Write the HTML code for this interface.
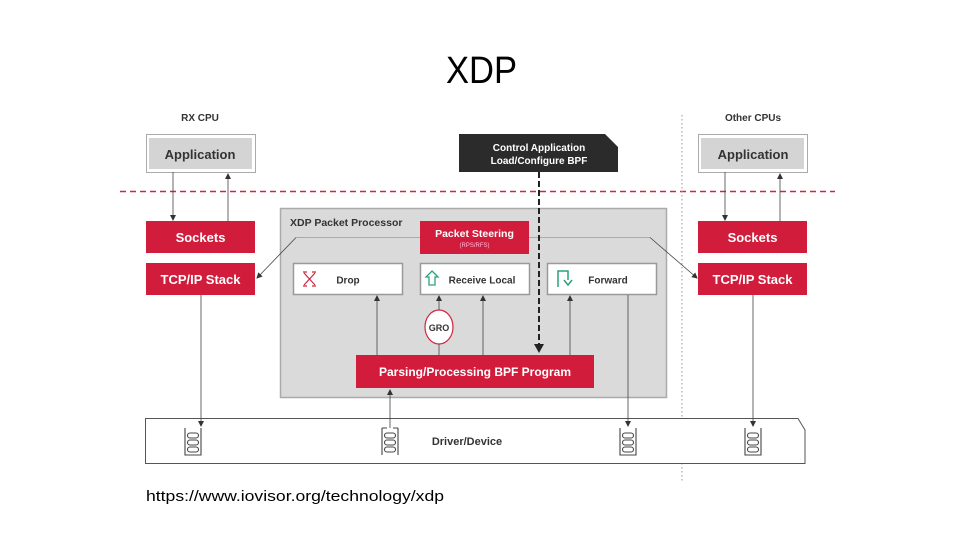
<!DOCTYPE html>
<html><head><meta charset="utf-8"><style>
html,body{margin:0;padding:0;background:#fff;}
svg{display:block;}
text{font-family:"Liberation Sans",sans-serif;}
</style></head><body>
<svg width="960" height="540" viewBox="0 0 960 540" xmlns="http://www.w3.org/2000/svg">
<defs>
<marker id="a" markerWidth="6" markerHeight="6" refX="5" refY="3" orient="auto" markerUnits="userSpaceOnUse"><path d="M0,0 L6,3 L0,6 z" fill="#333"/></marker>
<marker id="ab" markerWidth="10" markerHeight="10" refX="8" refY="5" orient="auto" markerUnits="userSpaceOnUse"><path d="M0,0 L9,5 L0,10 z" fill="#222"/></marker>
</defs>
<text x="446" y="83" font-size="38" textLength="71" lengthAdjust="spacingAndGlyphs" fill="#000">XDP</text>

<text x="200" y="121" font-size="10" font-weight="bold" text-anchor="middle" fill="#333">RX CPU</text>
<text x="753" y="121" font-size="10" font-weight="bold" text-anchor="middle" fill="#333">Other CPUs</text>

<rect x="146.5" y="134.5" width="109" height="38" fill="#fff" stroke="#aaa"/>
<rect x="149" y="138" width="103" height="31" fill="#d4d4d4"/>
<text x="200" y="159" font-size="13" font-weight="bold" text-anchor="middle" fill="#333">Application</text>
<rect x="698.5" y="134.5" width="109" height="38" fill="#fff" stroke="#aaa"/>
<rect x="701" y="138" width="103" height="31" fill="#d4d4d4"/>
<text x="753" y="159" font-size="13" font-weight="bold" text-anchor="middle" fill="#333">Application</text>

<path d="M459,134 L605,134 L618,147 L618,172 L459,172 z" fill="#2b2b2b"/>
<text x="539" y="151" font-size="10" font-weight="bold" text-anchor="middle" fill="#fff">Control Application</text>
<text x="539" y="164" font-size="10" font-weight="bold" text-anchor="middle" fill="#fff">Load/Configure BPF</text>

<line x1="120" y1="191.5" x2="835" y2="191.5" stroke="#d0243f" stroke-width="1.5" stroke-dasharray="6,4"/>
<line x1="682" y1="115" x2="682" y2="482" stroke="#999" stroke-width="1" stroke-dasharray="1.5,2.5"/>

<rect x="280.5" y="208.5" width="386" height="189" fill="#dadada" stroke="#aaa" stroke-width="1.5"/>
<text x="290" y="226" font-size="10.5" font-weight="bold" fill="#333">XDP Packet Processor</text>
<line x1="296" y1="237.5" x2="650" y2="237.5" stroke="#aaa"/>
<line x1="296" y1="237.5" x2="257" y2="278" stroke="#444" stroke-width="0.8" marker-end="url(#a)"/>
<line x1="650" y1="237.5" x2="697" y2="278" stroke="#444" stroke-width="0.8" marker-end="url(#a)"/>

<rect x="420" y="221" width="109" height="33" fill="#d21c3c"/>
<text x="474.5" y="237" font-size="10.5" font-weight="bold" text-anchor="middle" fill="#fff">Packet Steering</text>
<text x="474.5" y="247" font-size="6" text-anchor="middle" fill="#fbd">(RPS/RFS)</text>

<rect x="293.5" y="263.5" width="109" height="31" fill="#fff" stroke="#999" stroke-width="1.5"/>
<g stroke="#d0243f" stroke-width="1.2" fill="none"><path d="M304,273 L315,285 M315,273 L304,285 M303,272 L307,272 M312,272 L316,272 M303,286 L307,286 M312,286 L316,286"/></g>
<text x="348" y="283.5" font-size="10" font-weight="bold" text-anchor="middle" fill="#333">Drop</text>
<rect x="420.5" y="263.5" width="109" height="31" fill="#fff" stroke="#999" stroke-width="1.5"/>
<path d="M432,271 L438,277 L435,277 L435,285 L429,285 L429,277 L426,277 z" fill="none" stroke="#2aa37a" stroke-width="1.3"/>
<text x="482" y="283.5" font-size="10" font-weight="bold" text-anchor="middle" fill="#333">Receive Local</text>
<rect x="547.5" y="263.5" width="109" height="31" fill="#fff" stroke="#999" stroke-width="1.5"/>
<path d="M558,287 L558,271 L568,271 L568,280 M564,280 L568,285 L572,280" fill="none" stroke="#2aa37a" stroke-width="1.5"/>
<text x="608" y="283.5" font-size="10" font-weight="bold" text-anchor="middle" fill="#333">Forward</text>

<ellipse cx="439" cy="327" rx="14" ry="17" fill="#fff" stroke="#d0243f" stroke-width="1.2"/>
<text x="439" y="331" font-size="9" font-weight="bold" text-anchor="middle" fill="#333">GRO</text>

<rect x="356" y="355" width="238" height="33" fill="#d21c3c"/>
<text x="475" y="376" font-size="12" font-weight="bold" text-anchor="middle" fill="#fff">Parsing/Processing BPF Program</text>

<line x1="539" y1="172" x2="539" y2="352" stroke="#222" stroke-width="2" stroke-dasharray="6,3" marker-end="url(#ab)"/>

<path d="M145.5,418.5 L798,418.5 L805,430 L805,463.5 L145.5,463.5 z" fill="#fff" stroke="#555" stroke-width="1"/>
<text x="467" y="445" font-size="11" font-weight="bold" text-anchor="middle" fill="#333">Driver/Device</text>

<g stroke="#444" stroke-width="0.8" fill="none">
<line x1="377" y1="355" x2="377" y2="296" marker-end="url(#a)"/>
<line x1="439" y1="344" x2="439" y2="355"/>
<line x1="439" y1="310" x2="439" y2="296" marker-end="url(#a)"/>
<line x1="483" y1="355" x2="483" y2="296" marker-end="url(#a)"/>
<line x1="570" y1="355" x2="570" y2="296" marker-end="url(#a)"/>
<line x1="628" y1="295" x2="628" y2="426" marker-end="url(#a)"/>
<line x1="390" y1="428" x2="390" y2="390" marker-end="url(#a)"/>
<line x1="201" y1="295" x2="201" y2="426" marker-end="url(#a)"/>
<line x1="753" y1="295" x2="753" y2="426" marker-end="url(#a)"/>
<line x1="173" y1="172" x2="173" y2="220" marker-end="url(#a)"/>
<line x1="228" y1="221" x2="228" y2="174" marker-end="url(#a)"/>
<line x1="725" y1="172" x2="725" y2="220" marker-end="url(#a)"/>
<line x1="780" y1="221" x2="780" y2="174" marker-end="url(#a)"/>
</g>

<rect x="146" y="221" width="109" height="32" fill="#d21c3c"/>
<text x="200.5" y="242" font-size="13" font-weight="bold" text-anchor="middle" fill="#fff">Sockets</text>
<rect x="146" y="263" width="109" height="32" fill="#d21c3c"/>
<text x="200.5" y="284" font-size="13" font-weight="bold" text-anchor="middle" fill="#fff">TCP/IP Stack</text>
<rect x="698" y="221" width="109" height="32" fill="#d21c3c"/>
<text x="752.5" y="242" font-size="13" font-weight="bold" text-anchor="middle" fill="#fff">Sockets</text>
<rect x="698" y="263" width="109" height="32" fill="#d21c3c"/>
<text x="752.5" y="284" font-size="13" font-weight="bold" text-anchor="middle" fill="#fff">TCP/IP Stack</text>

<g fill="none" stroke="#444" stroke-width="1.1">
<g transform="translate(193,428)"><path d="M-8,0 L-8,27 L8,27 L8,0"/><rect x="-5.5" y="5" width="11" height="5" rx="2.5"/><rect x="-5.5" y="12" width="11" height="5" rx="2.5"/><rect x="-5.5" y="19" width="11" height="5" rx="2.5"/></g>
<g transform="translate(390,428)"><path d="M-8,0 L-8,27 M8,27 L8,0 M-8,0 L-3,0 M3,0 L8,0"/><rect x="-5.5" y="5" width="11" height="5" rx="2.5"/><rect x="-5.5" y="12" width="11" height="5" rx="2.5"/><rect x="-5.5" y="19" width="11" height="5" rx="2.5"/></g>
<g transform="translate(628,428)"><path d="M-8,0 L-8,27 L8,27 L8,0"/><rect x="-5.5" y="5" width="11" height="5" rx="2.5"/><rect x="-5.5" y="12" width="11" height="5" rx="2.5"/><rect x="-5.5" y="19" width="11" height="5" rx="2.5"/></g>
<g transform="translate(753,428)"><path d="M-8,0 L-8,27 L8,27 L8,0"/><rect x="-5.5" y="5" width="11" height="5" rx="2.5"/><rect x="-5.5" y="12" width="11" height="5" rx="2.5"/><rect x="-5.5" y="19" width="11" height="5" rx="2.5"/></g>
</g>

<text x="146" y="501" font-size="15" textLength="298" lengthAdjust="spacingAndGlyphs" fill="#000">https://www.iovisor.org/technology/xdp</text>
</svg>
</body></html>
